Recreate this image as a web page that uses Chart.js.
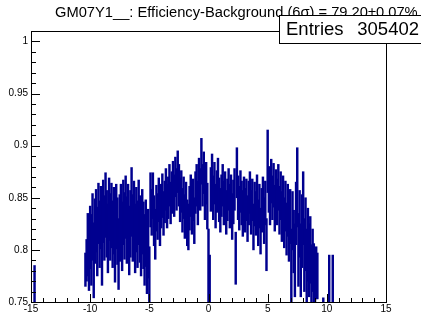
<!DOCTYPE html>
<html>
<head>
<meta charset="utf-8">
<script src="https://cdn.jsdelivr.net/npm/chart.js@4/dist/chart.umd.min.js"></script>
<style>
  html, body { margin: 0; padding: 0; background: #fff; }
  canvas { display: block; background: #fff; }
</style>
</head>
<body>
<canvas id="chart" width="421" height="319"></canvas>
<script>
// histogram GM07Y1__ efficiency per bin, bins of 0.1 starting at -10.4
const binStart = -10.4;
const binWidth = 0.1;
const effValues = [
    0.781, 0.790, 0.805, 0.795, 0.812, 0.800, 0.822, 0.790, 0.818, 0.828,
    0.808, 0.835, 0.815, 0.831, 0.800, 0.837, 0.821, 0.843, 0.825, 0.811,
    0.839, 0.822, 0.833, 0.815, 0.828, 0.803, 0.832, 0.818, 0.796, 0.821,
    0.833, 0.813, 0.836, 0.823, 0.841, 0.819, 0.832, 0.809, 0.825, 0.846,
    0.821, 0.835, 0.811, 0.829, 0.815, 0.836, 0.820, 0.808, 0.827, 0.814,
    0.800, 0.816, 0.792, 0.806, 0.775, 0.848, 0.836, 0.852, 0.828, 0.815,
    0.840, 0.832, 0.848, 0.826, 0.842, 0.852, 0.835, 0.846, 0.858, 0.842,
    0.850, 0.862, 0.845, 0.855, 0.866, 0.852, 0.870, 0.858, 0.875, 0.862,
    0.848, 0.856, 0.838, 0.850, 0.832, 0.845, 0.826, 0.822, 0.840, 0.852,
    0.836, 0.848, 0.828, 0.855, 0.862, 0.845, 0.868, 0.858, 0.885, 0.862,
    0.874, 0.850, 0.864, 0.842, 0.785, 0.770, 0.858, 0.872, 0.850, 0.864,
    0.842, 0.856, 0.868, 0.848, 0.838, 0.852, 0.862, 0.845, 0.855, 0.836,
    0.848, 0.858, 0.842, 0.852, 0.832, 0.846, 0.858, 0.792, 0.874, 0.850,
    0.840, 0.856, 0.845, 0.835, 0.850, 0.838, 0.848, 0.830, 0.845, 0.855,
    0.836, 0.848, 0.822, 0.844, 0.835, 0.852, 0.826, 0.842, 0.818, 0.838,
    0.850, 0.828, 0.845, 0.805, 0.885, 0.858, 0.845, 0.866, 0.850, 0.862,
    0.840, 0.856, 0.846, 0.860, 0.838, 0.852, 0.832, 0.848, 0.826, 0.842,
    0.820, 0.838, 0.815, 0.832, 0.785, 0.828, 0.808, 0.790, 0.835, 0.860,
    0.800, 0.825, 0.790, 0.818, 0.840, 0.795, 0.815, 0.785, 0.805, 0.790,
    0.800, 0.775, 0.790, 0.778, 0.770, 0.778, 0.775, null, null, null,
    null, 0.748, null, null, null, null, 0.770, null, null, 0.770
];
const effErrors = [
    0.016, 0.020, 0.030, 0.034, 0.030, 0.034, 0.032, 0.036, 0.031, 0.030,
    0.033, 0.029, 0.032, 0.030, 0.034, 0.030, 0.031, 0.031, 0.032, 0.033,
    0.030, 0.032, 0.031, 0.032, 0.032, 0.034, 0.031, 0.032, 0.034, 0.032,
    0.030, 0.033, 0.031, 0.032, 0.030, 0.032, 0.031, 0.033, 0.032, 0.033,
    0.032, 0.031, 0.033, 0.031, 0.032, 0.031, 0.032, 0.033, 0.031, 0.032,
    0.034, 0.032, 0.034, 0.033, 0.028, 0.026, 0.022, 0.022, 0.024, 0.024,
    0.022, 0.022, 0.021, 0.022, 0.021, 0.021, 0.021, 0.020, 0.020, 0.021,
    0.020, 0.020, 0.020, 0.020, 0.019, 0.020, 0.019, 0.020, 0.020, 0.020,
    0.021, 0.020, 0.021, 0.020, 0.021, 0.020, 0.022, 0.022, 0.021, 0.020,
    0.021, 0.020, 0.022, 0.020, 0.020, 0.021, 0.020, 0.020, 0.022, 0.020,
    0.020, 0.021, 0.020, 0.022, 0.035, 0.025, 0.021, 0.020, 0.021, 0.020,
    0.021, 0.020, 0.020, 0.021, 0.021, 0.020, 0.020, 0.021, 0.020, 0.021,
    0.020, 0.020, 0.021, 0.020, 0.022, 0.021, 0.020, 0.025, 0.024, 0.021,
    0.021, 0.020, 0.021, 0.022, 0.020, 0.021, 0.020, 0.022, 0.021, 0.020,
    0.021, 0.020, 0.022, 0.021, 0.021, 0.020, 0.022, 0.021, 0.022, 0.021,
    0.020, 0.022, 0.021, 0.025, 0.030, 0.022, 0.021, 0.021, 0.021, 0.021,
    0.022, 0.021, 0.022, 0.022, 0.023, 0.023, 0.024, 0.023, 0.024, 0.024,
    0.025, 0.025, 0.026, 0.026, 0.035, 0.028, 0.030, 0.035, 0.030, 0.038,
    0.035, 0.032, 0.035, 0.035, 0.035, 0.035, 0.035, 0.035, 0.035, 0.035,
    0.032, 0.030, 0.030, 0.028, 0.025, 0.025, 0.022, null, null, null,
    null, 0.006, null, null, null, null, 0.025, null, null, 0.025
];
// lone bin far on the left
const extraX = [-14.7];
const extraValues = [0.760];
const extraErrors = [0.025];

const xTicks = [-15, -10, -5, 0, 5, 10, 15];
const yTicks = [0.75, 0.8, 0.85, 0.9, 0.95, 1];
const titleText = 'GM07Y1__: Efficiency-Background (6\u03c3) = 79.20\u00b10.07%';
const statsLabel = 'Entries';
const statsValue = '305402';

const bars = [];
effValues.forEach((v, i) => {
    if (v === null) return;
    const x = +(binStart + i * binWidth).toFixed(2);
    bars.push({ x: x, y: [v - effErrors[i], v + effErrors[i]] });
});
extraX.forEach((x, i) => {
    bars.push({ x: x, y: [extraValues[i] - extraErrors[i], extraValues[i] + extraErrors[i]] });
});

const FONT = "'Liberation Sans', Arial, Helvetica, sans-serif";

const rootFrame = {
    id: 'rootFrame',
    afterDraw(chart) {
        const ctx = chart.ctx;
        const a = chart.chartArea;
        const xs = chart.scales.x;
        const ys = chart.scales.y;
        ctx.save();
        ctx.strokeStyle = '#000';
        ctx.lineWidth = 1;
        ctx.strokeRect(Math.round(a.left) + 0.5, Math.round(a.top) + 0.5,
            Math.round(a.right - a.left), Math.round(a.bottom - a.top));

        // ticks pointing into the frame
        ctx.beginPath();
        for (let i = 0; i <= 25; i++) {
            const v = 0.75 + i * 0.01;
            const py = Math.round(ys.getPixelForValue(v)) + 0.5;
            const len = (i % 5 === 0) ? 9 : 5;
            ctx.moveTo(a.left, py);
            ctx.lineTo(a.left + len, py);
        }
        for (let i = -15; i <= 15; i++) {
            const px = Math.round(xs.getPixelForValue(i)) + 0.5;
            const len = (i % 5 === 0) ? 8 : 4;
            ctx.moveTo(px, a.bottom);
            ctx.lineTo(px, a.bottom - len);
        }
        ctx.stroke();

        // title
        ctx.fillStyle = '#000';
        ctx.font = '14.7px ' + FONT;
        ctx.textBaseline = 'alphabetic';
        ctx.textAlign = 'left';
        ctx.fillText(titleText, 55, 17);

        // stats box
        ctx.fillStyle = '#fff';
        ctx.fillRect(279, 15, 150, 28);
        ctx.strokeRect(279.5, 15.5, 150, 28);
        ctx.fillStyle = '#000';
        ctx.font = '18.5px ' + FONT;
        ctx.fillText(statsLabel, 286, 35);
        ctx.textAlign = 'right';
        ctx.fillText(statsValue, 419, 35);
        ctx.restore();
    }
};

new Chart(document.getElementById('chart'), {
    type: 'bar',
    data: {
        datasets: [{
            data: bars,
            backgroundColor: '#00008f',
            borderWidth: 0,
            barThickness: 1.8,
            grouped: false
        }]
    },
    options: {
        responsive: false,
        animation: false,
        devicePixelRatio: 1,
        layout: { padding: { top: 31, right: 35, left: 0, bottom: 0 } },
        plugins: { legend: { display: false }, tooltip: { enabled: false } },
        scales: {
            x: {
                type: 'linear',
                min: -15,
                max: 15,
                offset: false,
                grid: { display: false, drawTicks: false },
                border: { display: false },
                afterBuildTicks: (s) => { s.ticks = xTicks.map(v => ({ value: v })); },
                afterFit: (s) => { s.height = 17; },
                ticks: {
                    autoSkip: false,
                    maxRotation: 0,
                    padding: 1,
                    color: '#000',
                    font: { family: FONT, size: 10 },
                    callback: (v) => String(v)
                }
            },
            y: {
                min: 0.75,
                max: 1.01,
                grid: { display: false, drawTicks: false },
                border: { display: false },
                afterBuildTicks: (s) => { s.ticks = yTicks.map(v => ({ value: v })); },
                afterFit: (s) => { s.width = 31; },
                ticks: {
                    padding: 3,
                    color: '#000',
                    font: { family: FONT, size: 10 },
                    callback: (v) => String(v)
                }
            }
        }
    },
    plugins: [rootFrame]
});
</script>
</body>
</html>
